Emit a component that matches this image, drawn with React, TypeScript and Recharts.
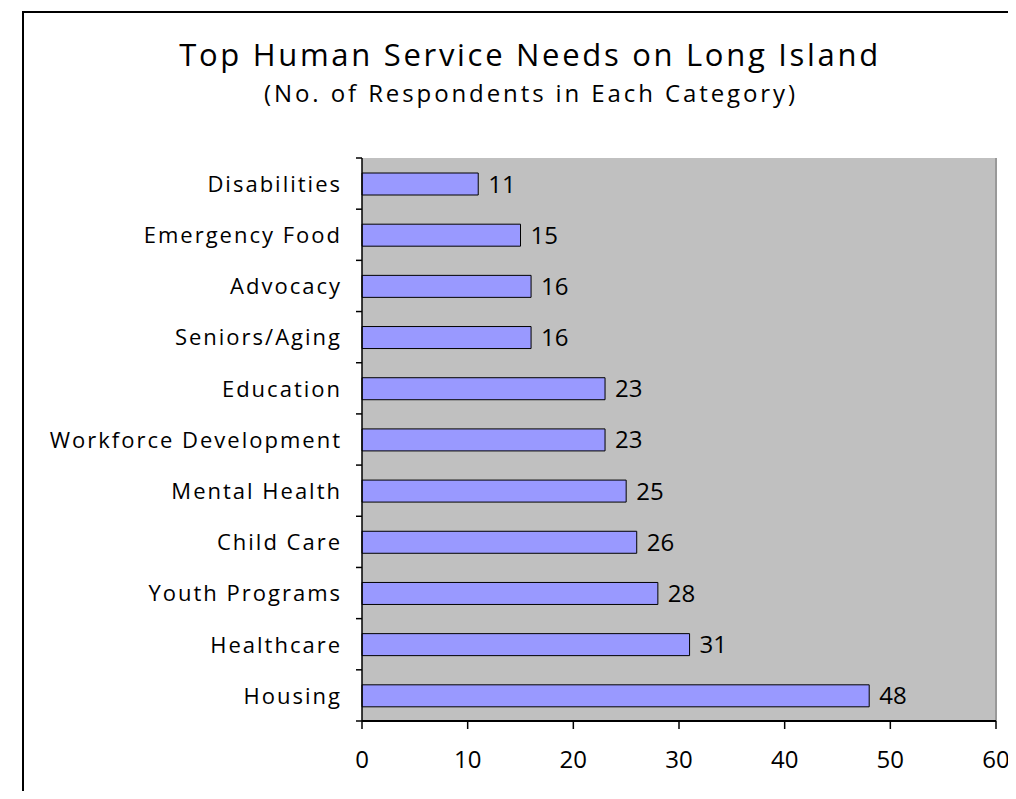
import React from "react";
import {
  BarChart,
  Bar,
  XAxis,
  YAxis,
  CartesianGrid,
  ReferenceLine,
  LabelList,
} from "recharts";

const categories = [
  "Disabilities",
  "Emergency Food",
  "Advocacy",
  "Seniors/Aging",
  "Education",
  "Workforce Development",
  "Mental Health",
  "Child Care",
  "Youth Programs",
  "Healthcare",
  "Housing",
];
const respondents = [11, 15, 16, 16, 23, 23, 25, 26, 28, 31, 48];
const xTicks = [0, 10, 20, 30, 40, 50, 60];

const data = categories.map((name, i) => ({ name, value: respondents[i] }));

const CHART_W = 1008;
const CHART_H = 783;
const MARGIN_TOP = 150;
const MARGIN_RIGHT = 20;
const Y_AXIS_W = 354;
const X_AXIS_H = 70;
const BAND = (CHART_H - MARGIN_TOP - X_AXIS_H) / categories.length;
const FONT = '"Open Sans", "DejaVu Sans", sans-serif';

// category label centred in its band, tick marks on the band edges
const CategoryTick = (props: any) => {
  const { y, payload, index } = props;
  return (
    <g>
      <text
        x={Y_AXIS_W - 20}
        y={y}
        dy="0.38em"
        textAnchor="end"
        fill="#000"
        fontSize={22}
        style={{ letterSpacing: 2 }}
      >
        {payload.value}
      </text>
      {index === 0 && (
        <line x1={Y_AXIS_W - 6} x2={Y_AXIS_W} y1={y - BAND / 2} y2={y - BAND / 2} stroke="#000" strokeWidth={1.5} />
      )}
      <line x1={Y_AXIS_W - 6} x2={Y_AXIS_W} y1={y + BAND / 2} y2={y + BAND / 2} stroke="#000" strokeWidth={1.5} />
    </g>
  );
};

export default function App() {
  return (
    <div
      style={{
        position: "relative",
        width: CHART_W,
        height: CHART_H,
        overflow: "hidden",
        fontFamily: FONT,
        background: "#fff",
      }}
    >
      <div
        style={{
          position: "absolute",
          left: 14,
          top: 3,
          width: 2000,
          height: 2000,
          borderLeft: "2px solid #000",
          borderTop: "2px solid #000",
        }}
      />
      <svg
        width={CHART_W}
        height={140}
        style={{ position: "absolute", left: 0, top: 0, fontFamily: FONT }}
      >
        <text x={522} y={58} textAnchor="middle" fontSize={31} fill="#000" style={{ letterSpacing: 2.7 }}>
          Top Human Service Needs on Long Island
        </text>
        <text x={523} y={94} textAnchor="middle" fontSize={24} fill="#000" style={{ letterSpacing: 2.9 }}>
          (No. of Respondents in Each Category)
        </text>
      </svg>
      <BarChart
        width={CHART_W}
        height={CHART_H}
        data={data}
        layout="vertical"
        margin={{ top: MARGIN_TOP, right: MARGIN_RIGHT, bottom: 0, left: 0 }}
        style={{ fontFamily: FONT }}
      >
        <CartesianGrid horizontal={false} vertical={false} fill="#C0C0C0" fillOpacity={1} stroke="none" />
        <XAxis
          xAxisId="top"
          orientation="top"
          type="number"
          domain={[0, 60]}
          height={0}
          tick={false}
          tickLine={false}
          axisLine={{ stroke: "#A0A0A0", strokeWidth: 2 }}
        />
        <XAxis
          type="number"
          domain={[0, 60]}
          ticks={xTicks}
          height={X_AXIS_H}
          tickSize={8}
          tickMargin={22}
          tick={{ fill: "#000", fontSize: 24 }}
          tickLine={{ stroke: "#000", strokeWidth: 1.5 }}
          axisLine={{ stroke: "#000", strokeWidth: 2 }}
        />
        <YAxis
          type="category"
          dataKey="name"
          width={Y_AXIS_W}
          tick={<CategoryTick />}
          tickLine={false}
          axisLine={{ stroke: "#000", strokeWidth: 1.5 }}
          interval={0}
        />
        <ReferenceLine x={60} stroke="#999999" strokeWidth={2} />
        <Bar dataKey="value" fill="#9999FF" stroke="#000" strokeWidth={1} barSize={22} isAnimationActive={false}>
          <LabelList dataKey="value" position="right" offset={10} fill="#000" fontSize={24} />
        </Bar>
      </BarChart>
    </div>
  );
}
